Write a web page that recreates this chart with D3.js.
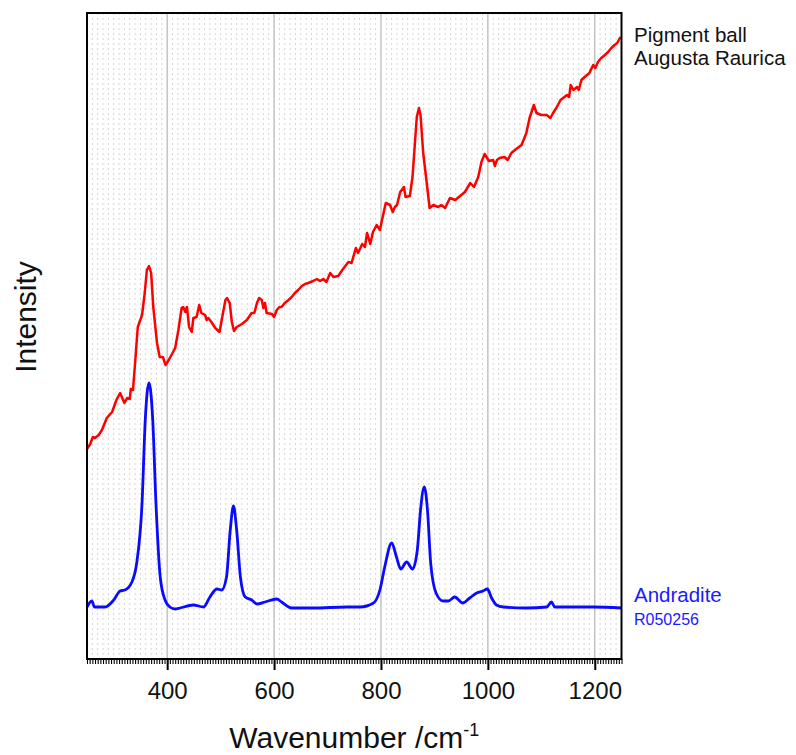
<!DOCTYPE html>
<html>
<head>
<meta charset="utf-8">
<script src="https://cdn.jsdelivr.net/npm/d3@7"></script>
<style>
  html, body { margin: 0; padding: 0; background: #fff; }
  svg text { font-family: "Liberation Sans", Arial, sans-serif; }
</style>
</head>
<body>
<svg id="chart" width="796" height="755"></svg>
<script>
// Raman spectra: wavenumber (cm^-1) and intensity (arbitrary units, offset traces)

// Pigment ball, Augusta Raurica
const sampleWavenumber = [250,256,261,265,272,278,287,297,305,312,320,325,330,332,336,340,345,353,358,362,366,370,374,381,386,392,397,404,415,421,427,430,434,437,441,446,449,455,460,464,471,474,477,484,490,498,502,509,512,517,521,525,530,540,549,558,563,568,572,577,580,583,586,596,600,605,610,614,620,627,633,639,645,652,658,664,673,680,686,692,698,705,711,720,729,739,745,753,757,765,770,774,780,785,792,798,804,809,817,822,826,830,836,843,846,854,859,863,867,871,874,879,885,891,898,907,913,920,929,939,948,957,967,974,982,988,994,1002,1010,1013,1017,1022,1031,1037,1044,1053,1063,1072,1078,1086,1091,1100,1110,1117,1122,1128,1136,1148,1152,1155,1160,1167,1170,1175,1181,1190,1197,1201,1206,1212,1219,1225,1231,1237,1242,1248];
const sampleIntensity = [210,215,222,221,224,229,241,247,259,266,256,261,260,270,269,296,332,344,366,389,393,386,352,316,302,302,294,300,311,329,351,352,347,352,332,327,341,342,354,346,344,339,341,336,331,327,339,359,361,356,337,328,332,335,339,346,346,356,361,359,351,356,346,345,342,349,352,352,356,359,362,366,369,373,375,376,378,380,378,380,377,386,382,383,390,397,396,411,406,415,412,426,415,427,434,429,444,456,454,447,452,454,467,472,462,463,482,512,542,551,544,506,479,451,454,452,454,451,461,459,463,467,476,472,482,497,505,498,499,493,499,501,502,499,506,510,514,526,541,554,546,544,544,541,546,551,559,564,562,574,569,572,569,579,582,586,594,591,597,601,604,607,611,614,616,622];

// Andradite reference, R050256
const refWavenumber = [250,259,264,284,300,312,321,334,343,353,359,366,373,379,387,396,405,415,424,449,468,480,493,502,511,518,524,530,537,546,558,568,583,605,614,633,673,736,761,786,798,807,820,829,837,848,859,868,874,881,887,893,903,916,926,938,953,966,979,991,999,1007,1016,1029,1072,1110,1119,1125,1147,1197,1250];
const refIntensity = [52,58,52,52,59,68,69,77,96,156,239,276,239,156,82,59,52,50,51,54,52,62,70,69,82,129,153,129,82,62,59,55,57,60,57,51,51,52,52,56,69,92,116,102,90,97,90,109,149,172,149,96,66,58,58,62,56,61,66,68,70,61,54,52,51,52,57,52,52,52,51];

const xDomain = [250, 1250];
const yDomain = [0, 646];
const majorTicks = [400, 600, 800, 1000, 1200];
const gridTicks = d3.range(250, 1251, 10);
const minorTicks = d3.range(250, 1251, 5);

const sampleLabel = ["Pigment ball", "Augusta Raurica"];
const refLabel = ["Andradite", "R050256"];

const svg = d3.select("#chart");
const plot = { left: 87, right: 621.5, top: 13, bottom: 659 };

const x = d3.scaleLinear().domain(xDomain).range([plot.left, plot.right]);
const y = d3.scaleLinear().domain(yDomain).range([plot.bottom, plot.top]);

// vertical grid: dotted minor lines, solid major lines
const grid = svg.append("g");
grid.selectAll("line.minor")
  .data(gridTicks.filter(t => !majorTicks.includes(t) && t > xDomain[0] && t < xDomain[1]))
  .join("line")
  .attr("class", "minor")
  .attr("x1", d => x(d)).attr("x2", d => x(d))
  .attr("y1", plot.top).attr("y2", plot.bottom)
  .attr("stroke", "#d6d6d6")
  .attr("stroke-width", 1)
  .attr("stroke-dasharray", "2,3");
grid.selectAll("line.major")
  .data(majorTicks)
  .join("line")
  .attr("class", "major")
  .attr("x1", d => x(d)).attr("x2", d => x(d))
  .attr("y1", plot.top).attr("y2", plot.bottom)
  .attr("stroke", "#b4b4b4")
  .attr("stroke-width", 1.2);

// spectra
const smoothLine = d3.line()
  .x(d => x(d[0]))
  .y(d => y(d[1]))
  .curve(d3.curveMonotoneX);
const rawLine = d3.line()
  .x(d => x(d[0]))
  .y(d => y(d[1]));

svg.append("path")
  .datum(d3.zip(refWavenumber, refIntensity))
  .attr("d", smoothLine)
  .attr("fill", "none")
  .attr("stroke", "#0a0aff")
  .attr("stroke-width", 2.8)
  .attr("stroke-linejoin", "round");

svg.append("path")
  .datum(d3.zip(sampleWavenumber, sampleIntensity))
  .attr("d", rawLine)
  .attr("fill", "none")
  .attr("stroke", "#ff0000")
  .attr("stroke-width", 2.5)
  .attr("stroke-linejoin", "round");

// frame
svg.append("rect")
  .attr("x", plot.left).attr("y", plot.top)
  .attr("width", plot.right - plot.left)
  .attr("height", plot.bottom - plot.top)
  .attr("fill", "none")
  .attr("stroke", "#000")
  .attr("stroke-width", 2);

// x axis: minor and major ticks
const minorAxis = d3.axisBottom(x).tickValues(minorTicks).tickSize(5).tickFormat("");
svg.append("g")
  .attr("transform", `translate(0,${plot.bottom})`)
  .call(minorAxis)
  .call(g => g.select(".domain").remove())
  .call(g => g.selectAll("line").attr("stroke", "#000").attr("stroke-width", 1.1));

const majorAxis = d3.axisBottom(x).tickValues(majorTicks).tickSize(11).tickPadding(12).tickFormat(d3.format("d"));
svg.append("g")
  .attr("transform", `translate(0,${plot.bottom})`)
  .call(majorAxis)
  .call(g => g.select(".domain").remove())
  .call(g => g.selectAll("line").attr("stroke", "#000").attr("stroke-width", 2))
  .call(g => g.selectAll("text")
    .attr("fill", "#111")
    .style("font-size", "24px")
    .style("font-family", "'Liberation Sans', Arial, sans-serif"));

// axis titles
const xTitle = svg.append("text")
  .attr("x", (plot.left + plot.right) / 2)
  .attr("y", 748)
  .attr("text-anchor", "middle")
  .attr("fill", "#111")
  .style("font-size", "30px");
xTitle.append("tspan").text("Wavenumber /cm");
xTitle.append("tspan").attr("dy", -12).style("font-size", "18px").text("-1");

svg.append("text")
  .attr("transform", `translate(36,${317}) rotate(-90)`)
  .attr("text-anchor", "middle")
  .attr("fill", "#111")
  .style("font-size", "30px")
  .text("Intensity");

// trace labels
svg.append("g").selectAll("text")
  .data(sampleLabel)
  .join("text")
  .attr("x", 634)
  .attr("y", (d, i) => 42 + i * 22.5)
  .attr("fill", "#111")
  .style("font-size", "20.5px")
  .text(d => d);

svg.append("text")
  .attr("x", 634).attr("y", 602)
  .attr("fill", "#1a1aff")
  .style("font-size", "20.5px")
  .text(refLabel[0]);
svg.append("text")
  .attr("x", 634).attr("y", 625)
  .attr("fill", "#1a1aff")
  .style("font-size", "16px")
  .text(refLabel[1]);
</script>
</body>
</html>
